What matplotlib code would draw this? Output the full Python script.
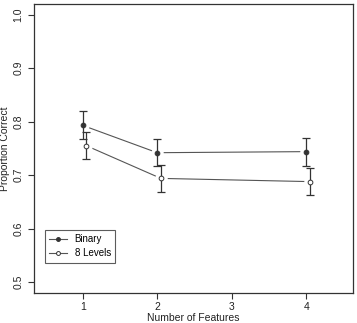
import matplotlib
matplotlib.use("Agg")
import matplotlib.pyplot as plt

plt.rcParams['font.family'] = ['Liberation Sans', 'DejaVu Sans']

# values
features = [1, 2, 4]
binary_mean = [0.793, 0.742, 0.744]
binary_lo = [0.768, 0.718, 0.718]
binary_hi = [0.820, 0.768, 0.769]
levels_mean = [0.755, 0.694, 0.688]
levels_lo = [0.730, 0.668, 0.663]
levels_hi = [0.781, 0.719, 0.713]
offset = 0.05

fig = plt.figure(figsize=(3.57, 3.23), dpi=100)
ax = fig.add_axes([0.094, 0.093, 0.895, 0.895])

ink = '#333333'

def draw(xs, mean, lo, hi, face, label):
    yerr = [[m - l for m, l in zip(mean, lo)], [h - m for m, h in zip(mean, hi)]]
    ax.plot(xs, mean, color='#555555', lw=0.8, zorder=1)
    # white halo so the line stops short of the point, like R's type="b"
    ax.plot(xs, mean, 'o', ms=9, mfc='white', mec='none', zorder=1.5)
    ax.errorbar(xs, mean, yerr=yerr, fmt='none', ecolor=ink, elinewidth=0.9,
                capsize=3, capthick=0.9, zorder=2)
    ax.plot(xs, mean, 'o', ms=3.4, mfc=face, mec=ink, mew=0.7, zorder=3)
    ax.plot([], [], '-o', color='#555555', lw=0.8, ms=2.8, mfc=face, mec=ink,
            mew=0.7, label=label)

draw(features, binary_mean, binary_lo, binary_hi, ink, 'Binary')
draw([f + offset for f in features], levels_mean, levels_lo, levels_hi, 'white', '8 Levels')

ax.set_xlim(0.34, 4.63)
ax.set_ylim(0.48, 1.02)
ax.set_xticks([1, 2, 3, 4])
ax.set_yticks([0.5, 0.6, 0.7, 0.8, 0.9, 1.0])
ax.set_yticklabels(['0.5', '0.6', '0.7', '0.8', '0.9', '1.0'], rotation=90, va='center')
ax.tick_params(labelsize=7.5, length=4, width=0.8, color=ink, labelcolor='#222222')
ax.tick_params(axis='x', pad=2.5)
for s in ax.spines.values():
    s.set_linewidth(0.9)
    s.set_color(ink)

ax.set_xlabel('Number of Features', fontsize=7.5, labelpad=0.5, color='#222222')
ax.set_ylabel('Proportion Correct', fontsize=7.5, labelpad=2, color='#222222')

leg = ax.legend(loc='lower left', bbox_to_anchor=(0.036, 0.105), fontsize=7,
                frameon=True, fancybox=False, edgecolor=ink, handlelength=1.8,
                handletextpad=0.8, borderpad=0.45, borderaxespad=0,
                labelspacing=0.4)
leg.get_frame().set_linewidth(0.8)

fig.savefig('out.png', dpi=100)
